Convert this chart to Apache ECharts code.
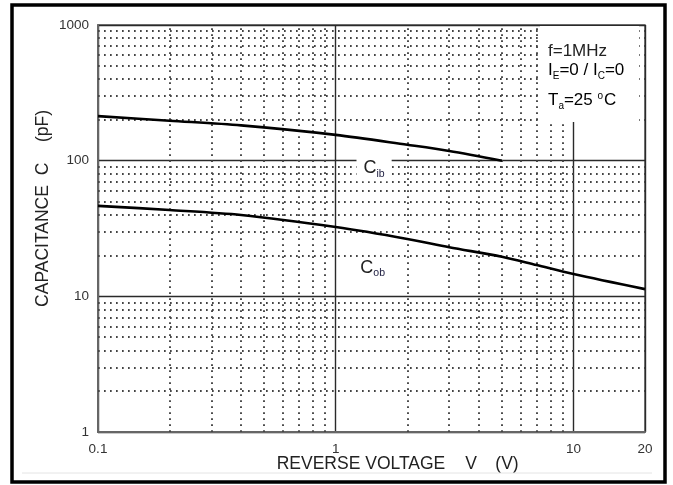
<!DOCTYPE html>
<html><head><meta charset="utf-8">
<script src="https://cdn.jsdelivr.net/npm/echarts@6/dist/echarts.min.js"></script>
<style>html,body{margin:0;padding:0;background:#fff}#c{width:673px;height:485px}</style>
</head><body><div id="c"></div>
<script>
// ---- data ----
const cibVoltage = [0.1, 0.2, 0.4, 1, 2, 3, 5];
const cibValues  = [213, 197, 182, 155, 131, 118, 100];
const cobVoltage = [0.1, 0.2, 0.4, 1, 2, 3, 5, 7, 10, 20];
const cobValues  = [46.4, 43.3, 39.8, 32.4, 26.5, 23, 19.6, 17, 14.6, 11.3];
const xTickLabels = ['0.1', '1', '10', '20'];
const yTickLabels = ['1', '10', '100', '1000'];
const xMinorGrid = [0.2,0.3,0.4,0.5,0.6,0.7,0.8,0.9,2,3,4,5,6,7,8,9];
const yMinorGrid = [2,3,4,5,6,7,8,9,20,30,40,50,60,70,80,90,200,300,400,500,600,700,800,900];
const annotationLines = ['f=1MHz', 'I_E=0 / I_C=0', 'T_a=25 °C'];

function pickLabel(list, v) {
  const hit = list.find(l => Math.abs(Math.log10(+l) - Math.log10(v)) < 1e-6);
  return hit || '';
}
function zip(xs, ys) { return xs.map((x, i) => [x, ys[i]]); }

const FONT = '"Liberation Sans", Arial, sans-serif';
const dotted = { color: '#444', width: 1.9, type: [1.7, 4.3] };

const chart = echarts.init(document.getElementById('c'), null, { renderer: 'canvas' });
chart.setOption({
  backgroundColor: '#fff',
  animation: false,
  grid: { left: 98, top: 25, right: 28, bottom: 53, show: true, borderColor: '#555', borderWidth: 1.5, backgroundColor: 'transparent' },
  xAxis: {
    type: 'log', logBase: 10, min: 0.1, max: 20,
    axisLine: { show: true, lineStyle: { color: '#666', width: 2 } },
    axisTick: { show: false },
    axisLabel: { margin: 10, fontSize: 13.5, color: '#333', fontFamily: FONT, formatter: v => pickLabel(xTickLabels, v) },
    splitLine: { show: true, lineStyle: { color: '#2a2a2a', width: 1.4 } },
    minorTick: { show: false }, minorSplitLine: { show: false }
  },
  yAxis: {
    type: 'log', logBase: 10, min: 1, max: 1000,
    axisLine: { show: true, lineStyle: { color: '#666', width: 2 } },
    axisTick: { show: false },
    axisLabel: { margin: 9, fontSize: 13.5, color: '#333', fontFamily: FONT, formatter: v => pickLabel(yTickLabels, v) },
    splitLine: { show: true, lineStyle: { color: '#2a2a2a', width: 1.4 } }
  },
  series: [
    {
      type: 'line', data: [], silent: true, z: 1,
      markLine: {
        silent: true, symbol: ['none', 'none'], animation: false,
        label: { show: false },
        lineStyle: dotted,
        data: xMinorGrid.map(v => ({ xAxis: v })).concat(yMinorGrid.map(v => ({ yAxis: v })))
      }
    },
    {
      name: 'Cib', type: 'line', data: zip(cibVoltage, cibValues), smooth: 0.3,
      showSymbol: false, symbol: 'none', z: 5,
      lineStyle: { color: '#000', width: 2.6 },
      markPoint: {
        symbol: 'rect', symbolSize: 0, silent: true,
        data: [{ coord: [1.45, 88] }],
        label: {
          show: true, position: 'inside', formatter: '{c|C}{s|ib}',
          backgroundColor: '#fff', padding: [2, 7, 2, 7],
          rich: { c: { fontSize: 18, color: '#222', fontFamily: FONT }, s: { fontSize: 10.5, color: '#224', fontFamily: FONT, padding: [11, 0, 0, 0] } }
        }
      }
    },
    {
      name: 'Cob', type: 'line', data: zip(cobVoltage, cobValues), smooth: 0.3,
      showSymbol: false, symbol: 'none', z: 5,
      lineStyle: { color: '#000', width: 2.6 },
      markPoint: {
        symbol: 'rect', symbolSize: 0, silent: true,
        data: [{ coord: [1.43, 16.2] }],
        label: {
          show: true, position: 'inside', formatter: '{c|C}{s|ob}',
          rich: { c: { fontSize: 18, color: '#222', fontFamily: FONT }, s: { fontSize: 10.5, color: '#224', fontFamily: FONT, padding: [11, 0, 0, 0] } }
        }
      }
    }
  ],
  graphic: [
    { type: 'rect', z: 20, shape: { x: 540, y: 26, width: 99, height: 96 }, style: { fill: '#fff' } },
    { type: 'text', z: 21, left: 548, top: 43, style: { text: annotationLines[0], font: '17px ' + FONT, fill: '#222' } },
    { type: 'text', z: 21, left: 548, top: 62, style: {
        text: '{m|I}{s|E}{m|=0 / I}{s|C}{m|=0}',
        rich: { m: { fontSize: 17, fontFamily: FONT, color: '#222' }, s: { fontSize: 10, fontFamily: FONT, color: '#222', padding: [11, 0, 0, 0] } } } },
    { type: 'text', z: 21, left: 548, top: 91, style: {
        text: '{m|T}{s|a}{m|=25 }{p|o}{m|C}',
        rich: { m: { fontSize: 17, fontFamily: FONT, color: '#222' }, s: { fontSize: 10, fontFamily: FONT, color: '#222', padding: [11, 0, 0, 0] }, p: { fontSize: 10, fontFamily: FONT, color: '#222', padding: [0, 1, 9, 0] } } } },
    // axis names
    { type: 'text', z: 21, x: 361, y: 464, style: { text: 'REVERSE VOLTAGE', font: '17.5px ' + FONT, fill: '#222', align: 'center', verticalAlign: 'middle' } },
    { type: 'text', z: 21, x: 471, y: 464, style: { text: 'V', font: '17.5px ' + FONT, fill: '#222', align: 'center', verticalAlign: 'middle' } },
    { type: 'text', z: 21, x: 507, y: 464, style: { text: '(V)', font: '17.5px ' + FONT, fill: '#222', align: 'center', verticalAlign: 'middle' } },
    { type: 'text', z: 21, x: 43, y: 246, rotation: Math.PI / 2, style: { text: 'CAPACITANCE', font: '17.5px ' + FONT, fill: '#222', align: 'center', verticalAlign: 'middle' } },
    { type: 'text', z: 21, x: 43, y: 169, rotation: Math.PI / 2, style: { text: 'C', font: '17.5px ' + FONT, fill: '#222', align: 'center', verticalAlign: 'middle' } },
    { type: 'text', z: 21, x: 43, y: 126, rotation: Math.PI / 2, style: { text: '(pF)', font: '17.5px ' + FONT, fill: '#222', align: 'center', verticalAlign: 'middle' } },
    // frame
    { type: 'line', z: 22, shape: { x1: 22, y1: 473, x2: 652, y2: 473 }, style: { stroke: '#e4e4e4', lineWidth: 1 } },
    { type: 'rect', z: 22, shape: { x: 12, y: 5, width: 653, height: 477 }, style: { fill: 'none', stroke: '#000', lineWidth: 3.5 } }
  ]
});
</script></body></html>
